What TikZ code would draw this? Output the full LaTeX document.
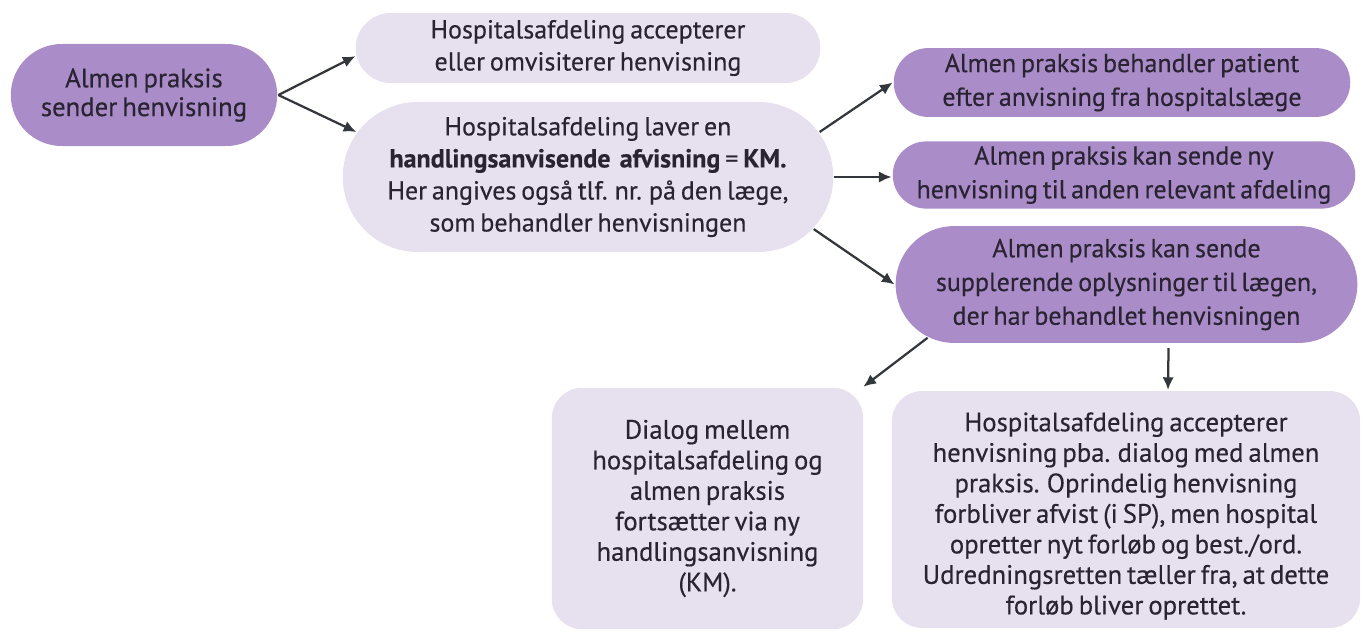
\documentclass[tikz,border=0pt]{standalone}
\usepackage{fontspec}
\setmainfont{PT Sans}[FakeBold=0.35, WordSpace=0.7]
\usepackage{tikz}
\usetikzlibrary{shapes,shapes.misc,arrows,arrows.meta,calc,positioning}
\definecolor{praksis}{HTML}{A98CC8}
\definecolor{hospital}{HTML}{E7E0EF}
\definecolor{tekst}{HTML}{2A2432}
\definecolor{pil}{HTML}{33373C}
\tikzset{pill/.style={rounded rectangle, inner sep=2pt, align=center, text=tekst,
  font=\fontsize{18.5}{24}\selectfont}}
\tikzstyle{dark}=[pill, fill=praksis]
\tikzstyle{light}=[pill, fill=hospital, font=\fontsize{18.5}{22.8}\selectfont]
\tikzstyle{card}=[rectangle, rounded corners=0.75cm, fill=hospital, align=center, text=tekst,
  font=\fontsize{19}{21.7}\selectfont]

\begin{document}
\begin{tikzpicture}[x=0.025cm, y=-0.025cm, >={Latex[length=9pt,width=8pt]}, line width=1.6pt]
\useasboundingbox (0,0) rectangle (1367,632);
\node[dark, minimum width=6.8cm, minimum height=2.55cm, font=\fontsize{19}{20.5}\selectfont] (N1) at (144,95) {Almen praksis\\sender henvisning};
\node[light, minimum width=11.75cm, minimum height=1.75cm] (N2) at (588,48) {Hospitalsafdeling accepterer\\eller omvisiterer henvisning};
\node[light, minimum width=12.4cm, minimum height=3.75cm] (N3) at (588,177) {Hospitalsafdeling laver en\\\textbf{handlingsanvisende\ \ afvisning} = \textbf{KM.}\\Her angives også tlf. nr. på den læge,\\som behandler henvisningen};
\node[dark, minimum width=11.55cm, minimum height=1.72cm] (N4) at (1122,82.5) {Almen praksis behandler patient\\efter anvisning fra hospitalslæge};
\node[dark, minimum width=11.7cm, minimum height=1.68cm] (N5) at (1124,175) {Almen praksis kan sende ny\\henvisning til anden relevant afdeling};
\node[dark, minimum width=11.68cm, minimum height=2.92cm] (N6) at (1126.5,284.5) {Almen praksis kan sende\\supplerende oplysninger til lægen,\\der har behandlet henvisningen};
\node[card, minimum width=7.78cm, minimum height=6.03cm] (N7) at (707.5,508.5) {Dialog mellem\\hospitalsafdeling og\\almen praksis\\fortsætter via ny\\handlingsanvisning\\(KM).};
\node[card, minimum width=11.7cm, minimum height=5.92cm] (N8) at (1126,509.5) {\rule{0pt}{8mm}Hospitalsafdeling accepterer\\henvisning pba. dialog med almen\\praksis. Oprindelig henvisning\\forbliver afvist (i SP), men hospital\\opretter nyt forløb og best./ord.\\Udredningsretten tæller fra, at dette\\forløb bliver oprettet.};

\path[->, pil]
  (N1.east) edge (N2.182)
  (N1.east) edge (N3.169)
  (N3.11.5) edge (N4.west)
  (N3.east) edge (N3.east -| N5.west)
  (N3.-13) edge (N6.west)
  (N6.195) edge (N7.38)
  ([xshift=1.05cm, yshift=-0.1cm]N6.south) edge ([xshift=1.05cm]N8.north)
;
\end{tikzpicture}
\end{document}
